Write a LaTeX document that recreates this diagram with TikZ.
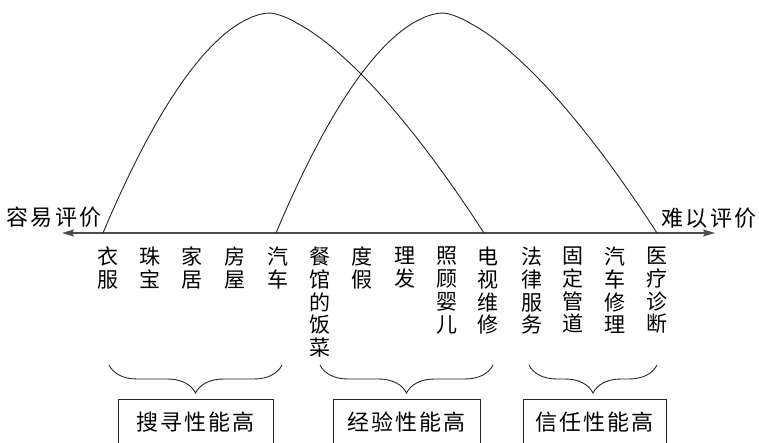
\documentclass[tikz,border=0pt]{standalone}
\usepackage{fontspec}
\setmainfont{Noto Sans CJK SC}
\newfontfamily\cjkw[LetterSpace=10]{Noto Sans CJK SC}
\usetikzlibrary{arrows.meta,decorations.pathreplacing}
\begin{document}
\begin{tikzpicture}[x=1pt,y=-1pt,
  curve/.style={line width=0.9pt, draw=black!85},
  axisline/.style={line width=1.4pt, draw=black!70,
    {Stealth[length=12pt,width=7pt,inset=2pt]}-{Stealth[length=12pt,width=7pt,inset=2pt]}},
  col/.style={anchor=north, inner sep=0pt, align=center, font=\fontsize{21}{22.7}\selectfont},
  endlabel/.style={inner sep=0pt, font=\cjkw\fontsize{22}{24}\selectfont},
  bracepath/.style={decorate, decoration={brace, amplitude=28pt, mirror}, line width=0.9pt, draw=black!85},
  catbox/.style={draw=black!85, line width=0.9pt, minimum height=46pt, inner sep=0pt,
    font=\cjkw\fontsize{22}{24}\selectfont}
]
\useasboundingbox (0,0) rectangle (759,442);

% axis
\coordinate (L) at (62,233);
\coordinate (R) at (715,233);
\draw[axisline] (L) -- (R);

% end labels
\node[endlabel] (easy) at (54,217) {容易评价};
\node[endlabel] (hard) at (709,218) {难以评价};

% curves
\draw[curve] plot[domain=1:0.01, samples=60] ({270-167*\x},{233-220*(1-\x^1.8)})
  -- plot[domain=0.01:1, samples=60] ({270+214*\x},{233-220*(1-\x^1.5)});
\draw[curve] plot[domain=1:0.01, samples=60] ({443-167*\x},{233-220*(1-\x^1.8)})
  -- plot[domain=0.01:1, samples=60] ({443+214*\x},{233-220*(1-\x^1.5)});

% column labels
\node[col] (c1)  at (108,247) {衣\\服};
\node[col] (c2)  at (150,247) {珠\\宝};
\node[col] (c3)  at (192,247) {家\\居};
\node[col] (c4)  at (235,247) {房\\屋};
\node[col] (c5)  at (278,247) {汽\\车};
\node[col] (c6)  at (320,247) {餐\\馆\\的\\饭\\菜};
\node[col] (c7)  at (362,247) {度\\假};
\node[col] (c8)  at (405,247) {理\\发};
\node[col] (c9)  at (447,247) {照\\顾\\婴\\儿};
\node[col] (c10) at (488,247) {电\\视\\维\\修};
\node[col] (c11) at (532,247) {法\\律\\服\\务};
\node[col] (c12) at (573,247) {固\\定\\管\\道};
\node[col] (c13) at (615,247) {汽\\车\\修\\理};
\node[col] (c14) at (657,247) {医\\疗\\诊\\断};

% braces
\coordinate (b1l) at (109,365); \coordinate (b1r) at (282,365);
\coordinate (b2l) at (320,365); \coordinate (b2r) at (493,365);
\coordinate (b3l) at (529,365); \coordinate (b3r) at (657,365);
\draw[bracepath] (b1l) -- (b1r);
\draw[bracepath] (b2l) -- (b2r);
\draw[bracepath] (b3l) -- (b3r);

% boxes
\node[catbox, minimum width=155pt] (k1) at (195.5,422) {搜寻性能高};
\node[catbox, minimum width=147pt] (k2) at (406.5,422) {经验性能高};
\node[catbox, minimum width=143pt] (k3) at (594.5,422) {信任性能高};
\end{tikzpicture}
\end{document}
